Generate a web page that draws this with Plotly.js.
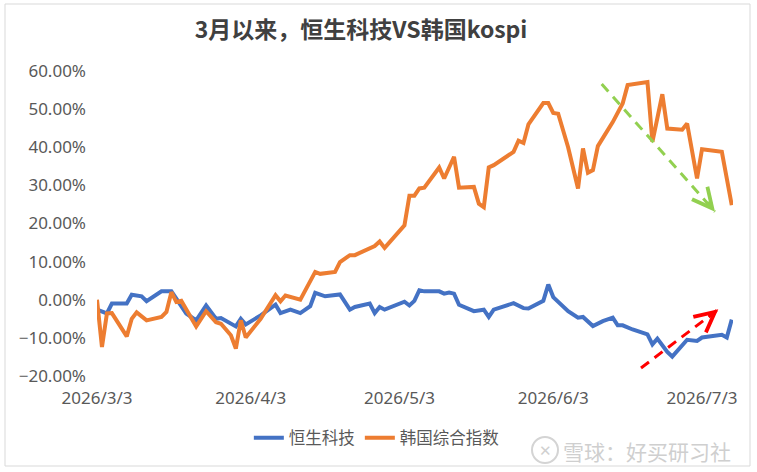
<!DOCTYPE html>
<html><head><meta charset="utf-8">
<script src="https://cdn.plot.ly/plotly-3.0.1.min.js"></script>
<style>html,body{margin:0;padding:0;background:#fff}#chart{width:757px;height:472px}</style>
</head><body><div id="chart"></div>
<script>
const chartTitle = '3月以来，恒生科技VS韩国kospi';
const seriesNames = ['恒生科技', '韩国综合指数'];
const watermark = '雪球：好买研习社';

const hsDates = ['2026-03-03','2026-03-05','2026-03-06','2026-03-09','2026-03-10','2026-03-12','2026-03-13','2026-03-16','2026-03-18','2026-03-20','2026-03-21','2026-03-23','2026-03-25','2026-03-27','2026-03-28','2026-03-31','2026-04-01','2026-04-02','2026-04-05','2026-04-08','2026-04-09','2026-04-11','2026-04-13','2026-04-15','2026-04-16','2026-04-18','2026-04-21','2026-04-23','2026-04-24','2026-04-27','2026-04-28','2026-04-29','2026-04-30','2026-05-04','2026-05-05','2026-05-06','2026-05-07','2026-05-08','2026-05-11','2026-05-12','2026-05-13','2026-05-14','2026-05-15','2026-05-18','2026-05-20','2026-05-21','2026-05-22','2026-05-26','2026-05-28','2026-05-29','2026-06-01','2026-06-02','2026-06-03','2026-06-06','2026-06-08','2026-06-09','2026-06-11','2026-06-13','2026-06-15','2026-06-16','2026-06-17','2026-06-19','2026-06-22','2026-06-23','2026-06-24','2026-06-26','2026-06-27','2026-06-30','2026-07-02','2026-07-03','2026-07-07','2026-07-08','2026-07-09'];
const hsValues = [-2.6,-3.6,-1.0,-1.0,1.3,0.9,-0.4,2.2,2.2,-1.9,-3.6,-5.4,-1.5,-5.0,-4.8,-7.0,-5.0,-6.5,-4.1,-1.3,-3.5,-2.6,-3.5,-1.7,1.8,0.9,1.4,-2.6,-1.9,-1.0,-3.5,-1.9,-2.6,-0.5,-1.5,-0.3,2.5,2.2,2.2,1.6,1.9,1.6,-1.3,-3.0,-2.6,-4.5,-2.6,-0.9,-2.2,-2.3,-0.3,4.0,0.7,-3.0,-4.7,-4.5,-6.9,-5.6,-4.7,-6.7,-6.7,-7.8,-9.1,-11.7,-10.2,-13.7,-14.9,-10.5,-10.8,-9.9,-9.2,-9.9,-5.2];

const ksDates = ['2026-03-03','2026-03-04','2026-03-05','2026-03-06','2026-03-09','2026-03-10','2026-03-11','2026-03-13','2026-03-16','2026-03-17','2026-03-18','2026-03-19','2026-03-20','2026-03-23','2026-03-25','2026-03-27','2026-03-28','2026-03-30','2026-03-31','2026-04-01','2026-04-02','2026-04-05','2026-04-08','2026-04-09','2026-04-10','2026-04-13','2026-04-16','2026-04-17','2026-04-20','2026-04-21','2026-04-23','2026-04-24','2026-04-28','2026-04-29','2026-04-30','2026-05-04','2026-05-05','2026-05-06','2026-05-07','2026-05-08','2026-05-11','2026-05-12','2026-05-14','2026-05-15','2026-05-18','2026-05-19','2026-05-20','2026-05-21','2026-05-22','2026-05-26','2026-05-27','2026-05-28','2026-05-29','2026-06-01','2026-06-02','2026-06-03','2026-06-04','2026-06-06','2026-06-08','2026-06-09','2026-06-10','2026-06-11','2026-06-12','2026-06-15','2026-06-17','2026-06-18','2026-06-22','2026-06-23','2026-06-25','2026-06-26','2026-06-29','2026-06-30','2026-07-02','2026-07-03','2026-07-07','2026-07-09'];
const ksValues = [0.0,-12.4,-3.6,-3.5,-9.6,-5.0,-3.3,-5.4,-4.5,-3.2,2.0,-0.6,-0.3,-7.0,-3.0,-5.9,-6.3,-9.3,-12.8,-5.4,-9.9,-5.0,1.2,-0.4,1.1,0.0,7.3,6.8,7.3,9.9,11.7,11.7,14.1,15.3,13.6,19.5,27.3,27.3,29.2,29.4,34.7,31.8,37.5,29.4,29.6,25.2,24.3,34.7,35.3,38.8,41.7,41.1,46.0,51.6,51.6,49.0,48.8,40.0,29.2,39.7,33.3,34.0,40.3,46.6,51.5,56.3,57.1,41.4,53.9,44.9,44.6,46.2,31.8,39.5,38.8,24.8];

const xRange = ['2026-03-03', '2026-07-09 06:00'];
const yRange = [-20, 60];

const baseFont = 'Noto Sans, Noto Sans CJK SC, sans-serif';
const grey = '#595959';

const traces = [
  {x: hsDates, y: hsValues, name: seriesNames[0], type: 'scatter', mode: 'lines',
   line: {color: '#4472C4', width: 4}},
  {x: ksDates, y: ksValues, name: seriesNames[1], type: 'scatter', mode: 'lines',
   line: {color: '#ED7D31', width: 4}}
];

// pixel -> paper helpers for decorations (plot area 97..733 x 71..376)
const px = v => (v - 97) / 636;
const py = v => (376 - v) / 305;

const layout = {
  width: 757, height: 472,
  margin: {l: 97, r: 24, t: 71, b: 96},
  paper_bgcolor: '#ffffff', plot_bgcolor: 'rgba(0,0,0,0)',
  font: {family: baseFont, color: grey, size: 17},
  title: {text: '<b>' + chartTitle + '</b>', x: 0.477, xref: 'container', xanchor: 'center',
          y: 0.936, yref: 'container', yanchor: 'middle',
          font: {family: 'Noto Sans CJK SC, sans-serif', size: 23, color: '#404040'}},
  showlegend: true,
  legend: {orientation: 'h', x: 0.44, xanchor: 'center', y: -0.203, yanchor: 'middle',
           font: {family: 'Noto Sans CJK SC, sans-serif', size: 16.5, color: grey},
           itemwidth: 30, tracegroupgap: 0, bgcolor: 'rgba(0,0,0,0)'},
  xaxis: {type: 'date', range: xRange, tick0: '2026-03-03', dtick: 'M1',
          tickformat: '%Y/%-m/%-d', showgrid: false, zeroline: false, showline: false,
          ticks: '', ticklabelstandoff: 10, tickfont: {size: 17, color: grey}, fixedrange: true},
  xaxis2: {type: 'date', overlaying: 'x', matches: 'x', anchor: 'free', position: 0.25,
           range: xRange, tick0: '2026-03-03', dtick: 'M1', showticklabels: false,
           showline: true, linecolor: '#d9d9d9', linewidth: 1, ticks: 'outside', ticklen: 5,
           tickcolor: '#d9d9d9', showgrid: false, zeroline: false, layer: 'below traces'},
  yaxis: {range: yRange, dtick: 10, tickformat: '.2f', ticksuffix: '%', showgrid: false,
          zeroline: false, showline: false, ticks: '', ticklabelstandoff: 10,
          tickfont: {size: 17, color: grey}, fixedrange: true},
  shapes: [
    {type: 'rect', xref: 'paper', yref: 'paper', x0: px(5), x1: px(750), y0: py(466), y1: py(4),
     line: {color: '#d9d9d9', width: 1}, layer: 'below'},
    {type: 'line', xref: 'paper', yref: 'paper', x0: px(601.7), y0: py(84), x1: px(715), y1: py(211.7),
     line: {color: '#92D050', width: 3, dash: '10px,7px'}},
    {type: 'line', xref: 'paper', yref: 'paper', x0: px(641), y0: py(368), x1: px(718.3), y1: py(309.3),
     line: {color: '#FF0000', width: 3, dash: '10px,7px'}},
    {type: 'circle', xref: 'paper', yref: 'paper', x0: px(532), x1: px(558),
     y0: py(463), y1: py(437), line: {color: '#d4d4d4', width: 2}}
  ],
  annotations: [
    {xref: 'paper', yref: 'paper', x: px(715), y: py(211.7), ax: -9, ay: -11, text: '',
     showarrow: true, arrowhead: 5, arrowsize: 1.3, arrowwidth: 3, arrowcolor: '#92D050'},
    {xref: 'paper', yref: 'paper', x: px(718.3), y: py(309.3), ax: -11, ay: 9, text: '',
     showarrow: true, arrowhead: 5, arrowsize: 1.3, arrowwidth: 3, arrowcolor: '#FF0000'},
    {xref: 'paper', yref: 'paper', x: px(545), y: py(450), xanchor: 'center', yanchor: 'middle',
     text: '✕', showarrow: false, font: {size: 15, color: '#d0d0d0', family: baseFont}},
    {xref: 'paper', yref: 'paper', x: px(647), y: py(451), xanchor: 'center', yanchor: 'middle',
     text: watermark, showarrow: false,
     font: {size: 21, color: '#cfcfcf', family: 'Noto Sans CJK SC, sans-serif'}}
  ]
};

Plotly.newPlot('chart', traces, layout, {staticPlot: true, displayModeBar: false});
</script>
</body></html>
